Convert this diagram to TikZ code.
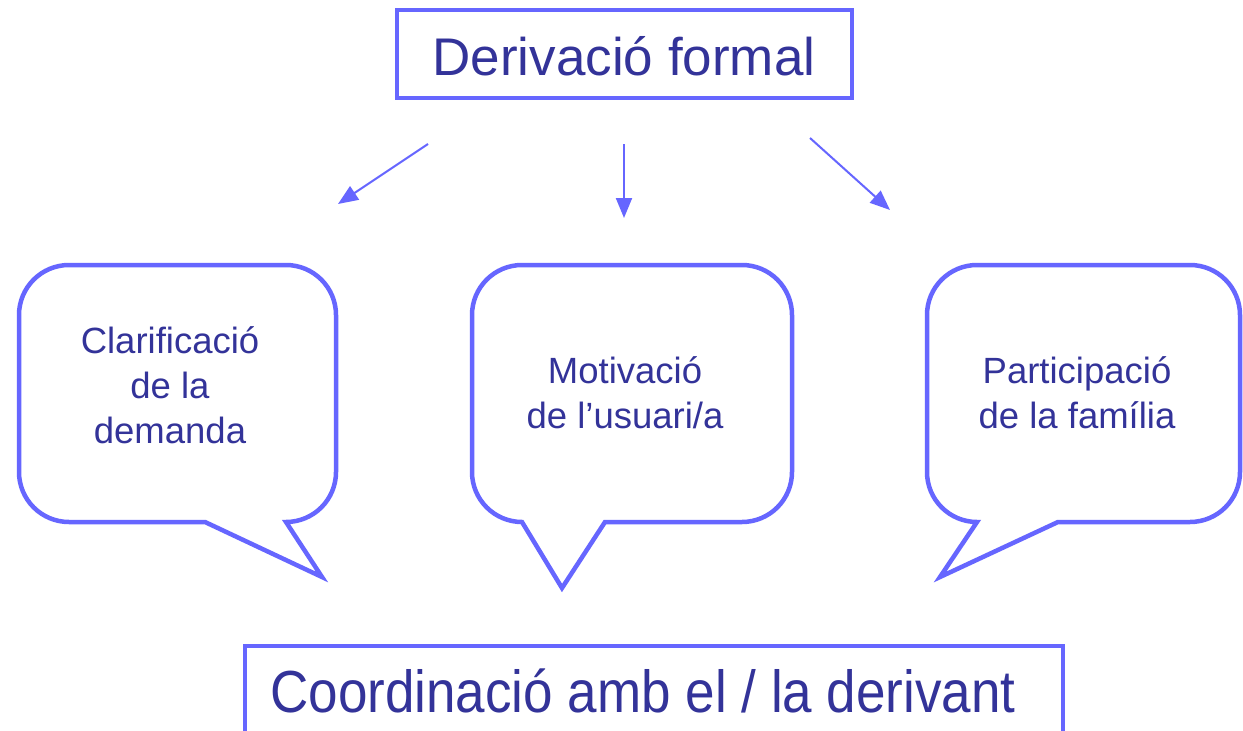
\documentclass[tikz,border=0pt]{standalone}
\usepackage{fontspec}
\setmainfont{Liberation Sans}
\usetikzlibrary{arrows.meta}
\definecolor{edgeblue}{RGB}{102,102,255}
\definecolor{textblue}{RGB}{51,51,153}
\begin{document}
\begin{tikzpicture}[x=1pt,y=-1pt,
  framebox/.style={draw=edgeblue,line width=4.5pt},
  bubble/.style={draw=edgeblue,line width=4.5pt,line join=miter},
  bigtext/.style={text=textblue,font=\fontsize{53}{60}\selectfont,inner sep=0pt},
  bubtext/.style={text=textblue,font=\fontsize{36.5}{45}\selectfont,align=center,inner sep=0pt},
  link/.style={draw=edgeblue,line width=2pt,-{Triangle[length=20pt,width=16pt]}}]
\clip (0,0) rectangle (1243,731);
\fill[white] (0,0) rectangle (1243,731);

% top box
\draw[framebox] (397,10) rectangle (852,98);
\node[bigtext,anchor=base] (top) at (624,75) {Derivació formal};

% arrows
\coordinate (a1s) at (428,144); \coordinate (a1e) at (338,204);
\coordinate (a2s) at (624,144); \coordinate (a2e) at (624,218);
\coordinate (a3s) at (810,138); \coordinate (a3e) at (890,210);
\draw[link] (a1s) -- (a1e);
\draw[link] (a2s) -- (a2e);
\draw[link] (a3s) -- (a3e);

% left bubble
\draw[bubble] (69,265) -- (286,265) arc[start angle=-90,end angle=0,radius=50]
  -- (336,472) arc[start angle=0,end angle=90,radius=50]
  -- (322,577) -- (205,522) -- (69,522) arc[start angle=90,end angle=180,radius=50]
  -- (19,315) arc[start angle=180,end angle=270,radius=50] -- cycle;
% middle bubble
\draw[bubble] (522,265) -- (742,265) arc[start angle=-90,end angle=0,radius=50]
  -- (792,472) arc[start angle=0,end angle=90,radius=50]
  -- (605,522) -- (562,588) -- (522,522) arc[start angle=90,end angle=180,radius=50]
  -- (472,315) arc[start angle=180,end angle=270,radius=50] -- cycle;
% right bubble
\draw[bubble] (977,265) -- (1190,265) arc[start angle=-90,end angle=0,radius=50]
  -- (1240,472) arc[start angle=0,end angle=90,radius=50]
  -- (1058,522) -- (940,577) -- (977,522) arc[start angle=90,end angle=180,radius=50]
  -- (927,315) arc[start angle=180,end angle=270,radius=50] -- cycle;

\node[bubtext] (b1) at (170,385) {Clarificació\\de la\\demanda};
\node[bubtext] (b2) at (625,393) {Motivació\\de l’usuari/a};
\node[bubtext] (b3) at (1077,393) {Participació\\de la família};

% bottom box
\draw[framebox] (245,646) rectangle (1063,800);
\node[bigtext,anchor=base,yscale=1.12] (bottom) at (643,712) {Coordinació amb el / la derivant};
\end{tikzpicture}
\end{document}
